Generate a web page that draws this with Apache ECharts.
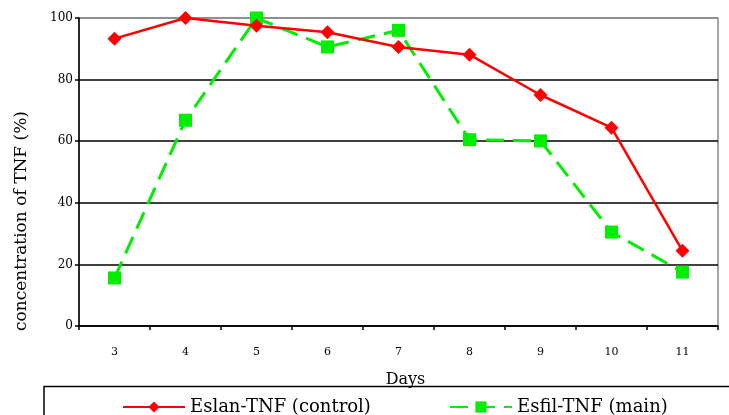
<!DOCTYPE html>
<html>
<head>
<meta charset="utf-8">
<script src="https://cdn.jsdelivr.net/npm/echarts@6/dist/echarts.min.js"></script>
<style>
  html, body { margin: 0; padding: 0; background: #fff; }
  #chart { width: 729px; height: 415px; }
</style>
</head>
<body>
<div id="chart"></div>
<script>
// days on the x axis
var days = ['3', '4', '5', '6', '7', '8', '9', '10', '11'];
// concentration of TNF (%)
var controlValues = [93.3, 100, 97.5, 95.4, 90.6, 88.1, 75, 64.4, 24.4];
var mainValues = [15.6, 66.8, 100, 90.6, 96, 60.5, 60.1, 30.5, 17.5];

var serif = '"DejaVu Serif", "Liberation Serif", serif';

var myChart = echarts.init(document.getElementById('chart'));

var legendText = { fontFamily: serif, fontSize: 18, color: '#000' };

var option = {
    animation: false,
    backgroundColor: '#fff',
    grid: {
        left: 79,
        right: 11,
        top: 18,
        bottom: 89,
        show: true,
        borderColor: '#888',
        borderWidth: 1.5
    },
    legend: [{
        left: 122,
        top: 398,
        padding: 0,
        itemWidth: 62,
        itemHeight: 14,
        itemGap: 0,
        textStyle: legendText,
        data: ['Eslan-TNF (control)']
    }, {
        left: 449,
        top: 398,
        padding: 0,
        itemWidth: 62,
        itemHeight: 14,
        itemGap: 0,
        textStyle: legendText,
        data: ['Esfil-TNF (main)']
    }],
    graphic: [{
        type: 'rect',
        shape: { x: 44, y: 386.5, width: 720, height: 60 },
        style: { fill: 'none', stroke: '#000', lineWidth: 1.5 },
        z: -1
    }, {
        type: 'text',
        x: 22,
        y: 221,
        rotation: Math.PI / 2,
        style: {
            text: 'concentration of TNF (%)',
            fontFamily: serif,
            fontSize: 17,
            fill: '#000',
            align: 'center',
            verticalAlign: 'middle'
        }
    }],
    xAxis: {
        type: 'category',
        data: days,
        boundaryGap: true,
        name: 'Days',
        nameLocation: 'middle',
        nameGap: 46,
        nameTextStyle: { fontFamily: serif, fontSize: 16, color: '#000', padding: [0, 0, 0, 14] },
        axisLine: { lineStyle: { color: '#000', width: 1.5 } },
        axisTick: { show: true, length: 4, lineStyle: { color: '#000', width: 1.5 } },
        axisLabel: { margin: 21, fontFamily: serif, fontSize: 11, color: '#000' },
        splitLine: { show: false }
    },
    yAxis: {
        type: 'value',
        min: 0,
        max: 100,
        interval: 20,
        axisLine: { show: true, lineStyle: { color: '#000', width: 1.5 } },
        axisTick: { show: true, length: 4, lineStyle: { color: '#000', width: 1.5 } },
        axisLabel: { margin: 6, fontFamily: serif, fontSize: 12, color: '#000' },
        splitLine: {
            show: true,
            lineStyle: { color: ['#000', '#000', '#000', '#000', '#000', '#888'], width: 1.5 }
        }
    },
    series: [{
        name: 'Eslan-TNF (control)',
        type: 'line',
        data: controlValues,
        symbol: 'diamond',
        symbolSize: 14,
        itemStyle: { color: '#ff0000' },
        lineStyle: { color: '#ff0000', width: 2.5 },
        z: 3
    }, {
        name: 'Esfil-TNF (main)',
        type: 'line',
        data: mainValues,
        symbol: 'rect',
        symbolSize: 13,
        itemStyle: { color: '#00ee00' },
        lineStyle: { color: '#00ee00', width: 3, type: [18, 9] },
        z: 2
    }]
};

myChart.setOption(option);
</script>
</body>
</html>
